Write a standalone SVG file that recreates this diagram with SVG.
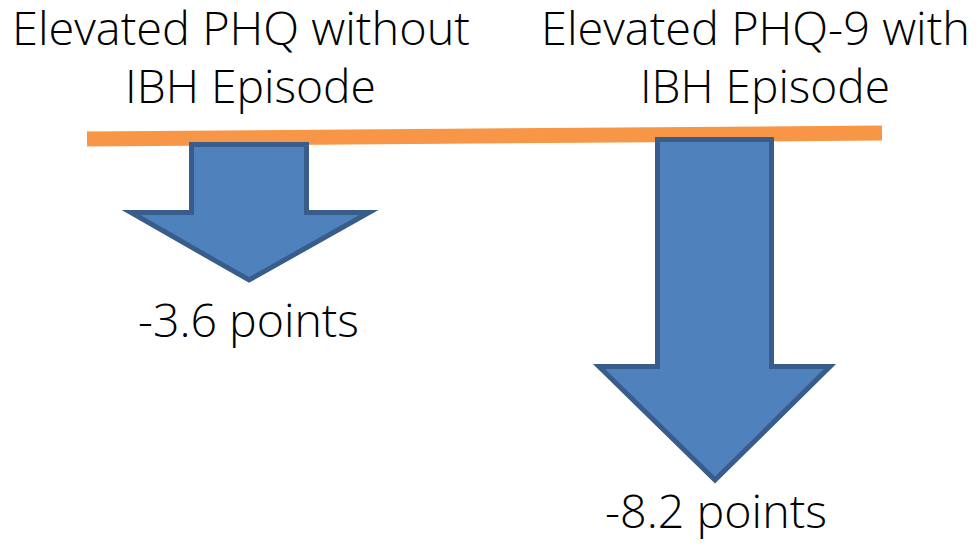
<svg xmlns="http://www.w3.org/2000/svg" width="976" height="547" viewBox="0 0 976 547">
  <style>
    .t { font-family: "Open Sans", "Noto Sans", "Liberation Sans", sans-serif; font-weight: 300; font-size: 46px; fill: #000; }
    .arrow { fill: #4F81BD; stroke: #385D8A; stroke-width: 5; stroke-linejoin: miter; }
  </style>
  <rect width="976" height="547" fill="#fff"/>
  <g id="baseline">
    <line x1="87" y1="139" x2="882" y2="133" stroke="#F79646" stroke-width="15"/>
  </g>
  <g id="header-left">
    <text class="t" x="12" y="45" textLength="458" lengthAdjust="spacingAndGlyphs">Elevated PHQ without</text>
    <text class="t" x="125" y="103" textLength="251" lengthAdjust="spacingAndGlyphs">IBH Episode</text>
  </g>
  <g id="header-right">
    <text class="t" x="541" y="45" textLength="429" lengthAdjust="spacingAndGlyphs">Elevated PHQ-9 with</text>
    <text class="t" x="640" y="103" textLength="250" lengthAdjust="spacingAndGlyphs">IBH Episode</text>
  </g>
  <g id="arrow-left">
    <polygon class="arrow" points="191.5,144.5 306.5,144.5 306.5,212.5 369,212.5 249,280 131,212.5 191.5,212.5"/>
    <text class="t" x="138" y="337" textLength="221" lengthAdjust="spacingAndGlyphs">-3.6 points</text>
  </g>
  <g id="arrow-right">
    <polygon class="arrow" points="657.5,139.5 771.5,139.5 771.5,366.5 830,366.5 715,480 599,366.5 657.5,366.5"/>
    <text class="t" x="605" y="528" textLength="222" lengthAdjust="spacingAndGlyphs">-8.2 points</text>
  </g>
</svg>
